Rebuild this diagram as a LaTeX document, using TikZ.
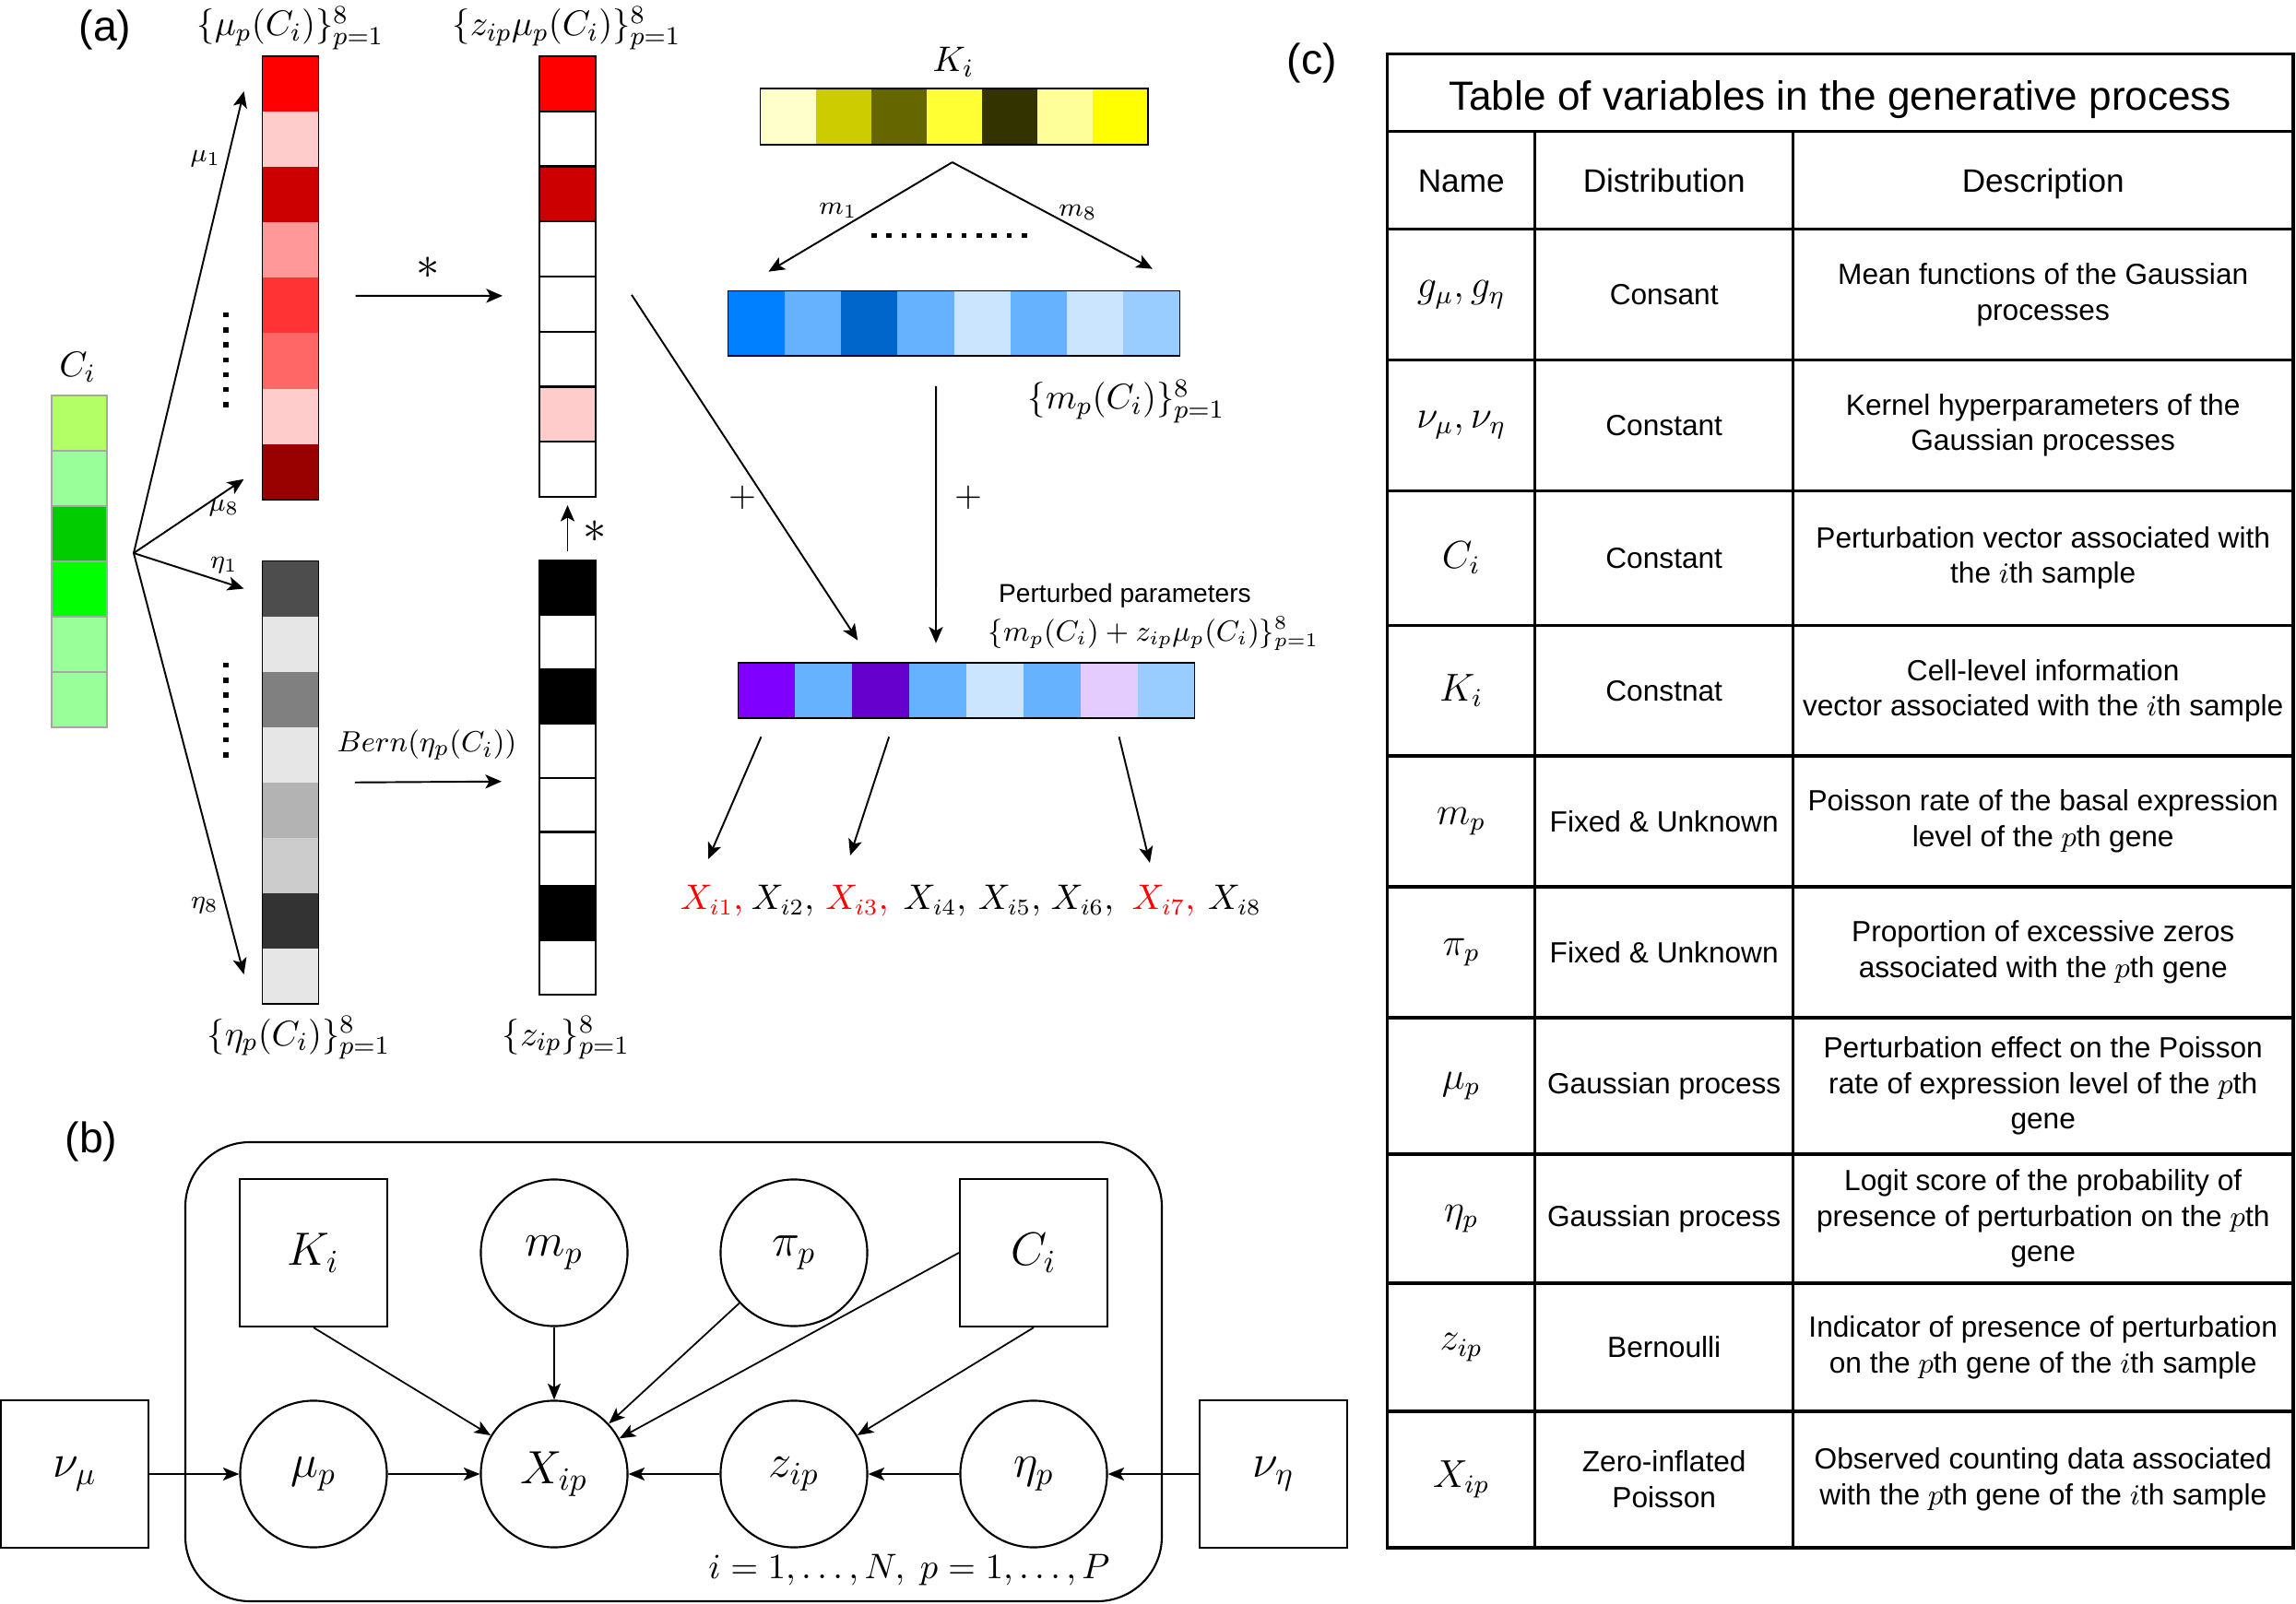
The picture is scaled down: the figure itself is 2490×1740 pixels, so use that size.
\documentclass[tikz,border=0pt]{standalone}
\usepackage[no-math]{fontspec}
\setmainfont{Liberation Sans}
\usetikzlibrary{calc,arrows.meta}
\begin{document}
\begin{tikzpicture}[x=0.01cm,y=-0.01cm,
  arr/.style={-{Stealth[length=5pt,width=4.3pt,inset=1.2pt]},line width=0.55pt},
  barr/.style={-{Stealth[length=5pt,width=4pt,inset=1.2pt]},line width=0.5pt},
  cellb/.style={inner sep=0pt,outer sep=0pt},
  lab/.style={inner sep=0pt,font=\fontsize{11}{13}\selectfont},
  sm/.style={inner sep=0pt,font=\fontsize{8}{10}\selectfont},
  panel/.style={inner sep=0pt,font=\fontsize{13.2}{15}\selectfont},
  xl/.style={inner sep=0pt,anchor=base,font=\fontsize{10.6}{12}\selectfont},
  gbox/.style={draw,rectangle,minimum size=1.6cm,inner sep=0pt,line width=0.6pt,font=\fontsize{14.4}{17}\selectfont},
  gcirc/.style={draw,circle,minimum size=1.59cm,inner sep=0pt,line width=0.6pt,font=\fontsize{14.4}{17}\selectfont},
  tbl/.style={line width=0.9pt},
  ttitle/.style={inner sep=0pt,anchor=base,font=\fontsize{12.55}{14}\selectfont},
  thead/.style={inner sep=0pt,anchor=base,font=\fontsize{10}{12}\selectfont},
  tname/.style={font=\fontsize{12}{14}\selectfont},
  tbody/.style={font=\fontsize{9}{11}\selectfont,align=center}
]
\useasboundingbox (0,0) rectangle (2490,1740);

% ---------------- panel labels
\node[panel] (la) at (114,32) {(a)};
\node[panel] (lb) at (99,1238) {(b)};
\node[panel] (lc) at (1423,68) {(c)};

% ---------------- (a) C_i column
\foreach \c [count=\i] in {B3FF66,99FF99,00CC00,00FF00,99FF99,99FF99}{
  \definecolor{cc}{HTML}{\c}
  \node[cellb,minimum width=0.6cm,minimum height=0.6cm,fill=cc,draw=gray!70,line width=0.3pt] (c\i) at (86,{429+(\i-0.5)*60}) {};
}
\node[lab,anchor=base] (clab) at (84,409) {$C_i$};

% mu column
\foreach \c [count=\i] in {FF0000,FFCCCC,CC0000,FF9999,FF3333,FF6666,FFCCCC,990000}{
  \definecolor{cc}{HTML}{\c}
  \node[cellb,minimum width=0.61cm,minimum height=0.601cm,fill=cc] (mu\i) at (315,{61+(\i-0.5)*60.1}) {};
}
\draw[line width=0.5pt] (mu1.north west) rectangle (mu8.south east);

% z*mu column
\foreach \c [count=\i] in {FF0000,FFFFFF,CC0000,FFFFFF,FFFFFF,FFFFFF,FFCCCC,FFFFFF}{
  \definecolor{cc}{HTML}{\c}
  \node[cellb,minimum width=0.61cm,minimum height=0.5975cm,fill=cc,draw=black,line width=0.65pt] (zm\i) at (615.5,{61+(\i-0.5)*59.75}) {};
}

% eta column
\foreach \c [count=\i] in {4D4D4D,E6E6E6,808080,E6E6E6,B3B3B3,CCCCCC,333333,E6E6E6}{
  \definecolor{cc}{HTML}{\c}
  \node[cellb,minimum width=0.61cm,minimum height=0.6006cm,fill=cc] (eta\i) at (315,{608.5+(\i-0.5)*60.06}) {};
}
\draw[line width=0.4pt] (eta1.north west) rectangle (eta8.south east);

% z column
\foreach \c [count=\i] in {000000,FFFFFF,000000,FFFFFF,FFFFFF,FFFFFF,000000,FFFFFF}{
  \definecolor{cc}{HTML}{\c}
  \node[cellb,minimum width=0.61cm,minimum height=0.588cm,fill=cc,draw=black,line width=0.65pt] (z\i) at (615.5,{608.5+(\i-0.5)*58.8}) {};
}

% K row
\foreach \c [count=\i] in {FFFFCC,CCCC00,666600,FFFF33,333300,FFFF99,FFFF00}{
  \definecolor{cc}{HTML}{\c}
  \node[cellb,minimum width=0.6007cm,minimum height=0.606cm,fill=cc] (k\i) at ({824.5+(\i-0.5)*60.07},126.7) {};
}
\draw[line width=0.5pt] (k1.north west) rectangle (k7.south east);

% blue row
\foreach \c [count=\i] in {007FFF,66B2FF,0066CC,66B2FF,CCE5FF,66B2FF,CCE5FF,99CCFF}{
  \definecolor{cc}{HTML}{\c}
  \node[cellb,minimum width=0.6122cm,minimum height=0.701cm,fill=cc] (bl\i) at ({789.8+(\i-0.5)*61.22},350.75) {};
}
\draw[line width=0.4pt] (bl1.north west) rectangle (bl8.south east);

% purple row
\foreach \c [count=\i] in {7F00FF,66B2FF,6600CC,66B2FF,CCE5FF,66B2FF,E5CCFF,99CCFF}{
  \definecolor{cc}{HTML}{\c}
  \node[cellb,minimum width=0.6186cm,minimum height=0.606cm,fill=cc] (pp\i) at ({800.5+(\i-0.5)*61.86},749) {};
}
\draw[line width=0.5pt] (pp1.north west) rectangle (pp8.south east);

% labels (a)
\node[lab,anchor=base] (lmu) at (315,39) {$\{\mu_p(C_i)\}_{p=1}^8$};
\node[lab,anchor=base] (lzm) at (614.6,39) {$\{z_{ip}\mu_p(C_i)\}_{p=1}^8$};
\node[lab,anchor=base] (leta) at (324,1134) {$\{\eta_p(C_i)\}_{p=1}^8$};
\node[lab,anchor=base] (lz) at (614,1134) {$\{z_{ip}\}_{p=1}^8$};
\node[lab,anchor=base] (lK) at (1034,78) {$K_i$};
\node[lab,anchor=base] (lm) at (1221.5,444) {$\{m_p(C_i)\}_{p=1}^8$};
\node[inner sep=0pt,font=\fontsize{8}{10}\selectfont] (lpp) at (1220,646) {Perturbed parameters};
\node[inner sep=0pt,anchor=base,font=\fontsize{9.2}{11}\selectfont] (lppf) at (1251,696) {$\{m_p(C_i)+z_{ip}\mu_p(C_i)\}_{p=1}^8$};
\node[inner sep=0pt,anchor=base,font=\fontsize{9.3}{11}\selectfont] (lbern) at (463,816) {$Bern(\eta_p(C_i))$};
\node[inner sep=0pt,font=\fontsize{14}{16}\selectfont] (st1) at (464,291) {$*$};
\node[inner sep=0pt,font=\fontsize{14}{16}\selectfont] (st2) at (645,577) {$*$};
\node[lab] (plus1) at (805,540) {$+$};
\node[lab] (plus2) at (1050,540) {$+$};

% dots
\foreach \k in {0,...,6} \fill (242,{339+\k*16.2}) rectangle ++(5.5,5.5);
\foreach \k in {0,...,6} \fill (242,{719+\k*16.2}) rectangle ++(5.5,5.5);
\foreach \k in {0,...,10} \fill ({945+\k*16.3},253) rectangle ++(5.5,5.5);

% fan arrows
\coordinate (fan) at (145,600);
\draw[arr] (fan) -- ($(mu1.west)+(-20,8)$);
\draw[arr] (fan) -- ($(mu8.west)+(-20,8)$);
\draw[arr] (fan) -- ($(eta1.west)+(-20,0)$);
\draw[arr] (fan) -- ($(eta8.west)+(-20,-2)$);
\node[sm] (lmu1) at (223,172) {$\mu_1$};
\node[sm] (lmu8) at (243,551) {$\mu_8$};
\node[sm] (leta1) at (243,613) {$\eta_1$};
\node[sm] (leta8) at (222,982) {$\eta_8$};

% operations
\draw[arr] ($(mu5.east)+(40,-10.5)$) -- ($(zm5.west)+(-40,-9)$);
\draw[arr] ($(eta4.south east)+(39.4,0)$) -- ($(z4.south west)+(-41,4)$);
\draw[arr] ($(z1.north)+(0,-10)$) -- ($(zm8.south)+(0,9)$);
\draw[arr] ($(zm5.east)+(39,-10)$) -- ($(pp2.north east)+(6,-24)$);

% K fan
\coordinate (apex) at ($(k4.south)+(-2,19)$);
\draw[arr] (apex) -- ($(bl1.north)+(13,-21)$);
\draw[arr] (apex) -- ($(bl8.north)+(1,-24)$);
\node[sm] (lm1) at (909,228) {$m_1$};
\node[sm] (lm8) at (1169,230) {$m_8$};
\draw[arr] ($(bl4.south)+(11,33)$) -- ($(pp4.north)+(-2,-21)$);

% X outputs
\node[xl,text=red] (x1) at (772,987) {$X_{i1},$};
\node[xl] (x2) at (849,987) {$X_{i2},$};
\node[xl,text=red] (x3) at (929.5,987) {$X_{i3},$};
\node[xl] (x4) at (1014,987) {$X_{i4},$};
\node[xl] (x5) at (1095,987) {$X_{i5},$};
\node[xl] (x6) at (1174,987) {$X_{i6},$};
\node[xl,text=red] (x7) at (1262,987) {$X_{i7},$};
\node[xl] (x8) at (1339,987) {$X_{i8}$};
\draw[arr] ($(pp1.south)+(-6,20)$) -- ($(x1.north)+(-4,-28)$);
\draw[arr] ($(pp3.south)+(9,20)$) -- ($(x3.north)+(-7.5,-32)$);
\draw[arr] ($(pp7.south)+(11,20)$) -- ($(x7.north)+(-15,-24)$);

% ---------------- (b) graphical model
\draw[line width=0.6pt,rounded corners=0.7cm] (201,1239) rectangle (1260,1737);
\node[gbox] (gK) at (340,1359) {$K_i$};
\node[gcirc] (gm) at (601,1359) {$m_p$};
\node[gcirc] (gpi) at (861,1359) {$\pi_p$};
\node[gbox] (gC) at (1121,1359) {$C_i$};
\node[gbox] (gnumu) at (81,1599) {$\nu_\mu$};
\node[gcirc] (gmu) at (340,1599) {$\mu_p$};
\node[gcirc] (gX) at (601,1599) {$X_{ip}$};
\node[gcirc] (gz) at (861,1599) {$z_{ip}$};
\node[gcirc] (geta) at (1121,1599) {$\eta_p$};
\node[gbox] (gnueta) at (1381,1599) {$\nu_\eta$};
\node[inner sep=0pt,font=\fontsize{10.5}{12}\selectfont] (plate) at (986,1703) {$i=1,\ldots,N,\ p=1,\ldots,P$};
\draw[barr] (gK.south) -- (gX);
\draw[barr] (gm.south) -- (gX.north);
\draw[barr] (gpi) -- (gX);
\draw[barr] (gC.west) -- (gX);
\draw[barr] (gC.south) -- (gz);
\draw[barr] (gnumu.east) -- (gmu.west);
\draw[barr] (gmu.east) -- (gX.west);
\draw[barr] (gz.west) -- (gX.east);
\draw[barr] (geta.west) -- (gz.east);
\draw[barr] (gnueta.west) -- (geta.east);

% ---------------- (c) table
\draw[tbl] (1504.5,58.75) rectangle (2487,1679);
\foreach \yy in {142.7,248.5,390.4,532.4,678.4,820,962,1104,1252,1392,1531}
  \draw[tbl] (1504.5,\yy) -- (2487,\yy);
\draw[tbl] (1664.9,142.7) -- (1664.9,1679);
\draw[tbl] (1944.4,142.7) -- (1944.4,1679);

\node[ttitle] (ttl) at (1995.75,120) {Table of variables in the generative process};
\node[thead] (h1) at (1584.7,208.5) {Name};
\node[thead] (h2) at (1804.7,208.5) {Distribution};
\node[thead] (h3) at (2215.7,208.5) {Description};

\foreach \yc/\nm/\ds/\de in {
  319.5/{$g_\mu, g_\eta$}/{Consant}/{Mean functions of the Gaussian\\processes},
  461.4/{$\nu_\mu, \nu_\eta$}/{Constant}/{Kernel hyperparameters of the\\Gaussian processes},
  605.4/{$C_i$}/{Constant}/{Perturbation vector associated with\\the $i$th sample},
  749.2/{$K_i$}/{Constnat}/{Cell-level information\\vector associated with the $i$th sample},
  891/{$m_p$}/{Fixed \& Unknown}/{Poisson rate of the basal expression\\level of the $p$th gene},
  1033/{$\pi_p$}/{Fixed \& Unknown}/{Proportion of excessive zeros\\associated with the $p$th gene},
  1178/{$\mu_p$}/{Gaussian process}/{Perturbation effect on the Poisson\\rate of expression level of the $p$th\\gene},
  1322/{$\eta_p$}/{Gaussian process}/{Logit score of the probability of\\presence of perturbation on the $p$th\\gene},
  1461.5/{$z_{ip}$}/{Bernoulli}/{Indicator of presence of perturbation\\on the $p$th gene of the $i$th sample},
  1605/{$X_{ip}$}/{Zero-inflated\\Poisson}/{Observed counting data associated\\with the $p$th gene of the $i$th sample}}{
  \node[tname] at (1584.7,\yc) {\nm};
  \node[tbody] at (1804.7,\yc) {\ds};
  \node[tbody] at (2215.7,\yc) {\de};
}
\end{tikzpicture}
\end{document}
